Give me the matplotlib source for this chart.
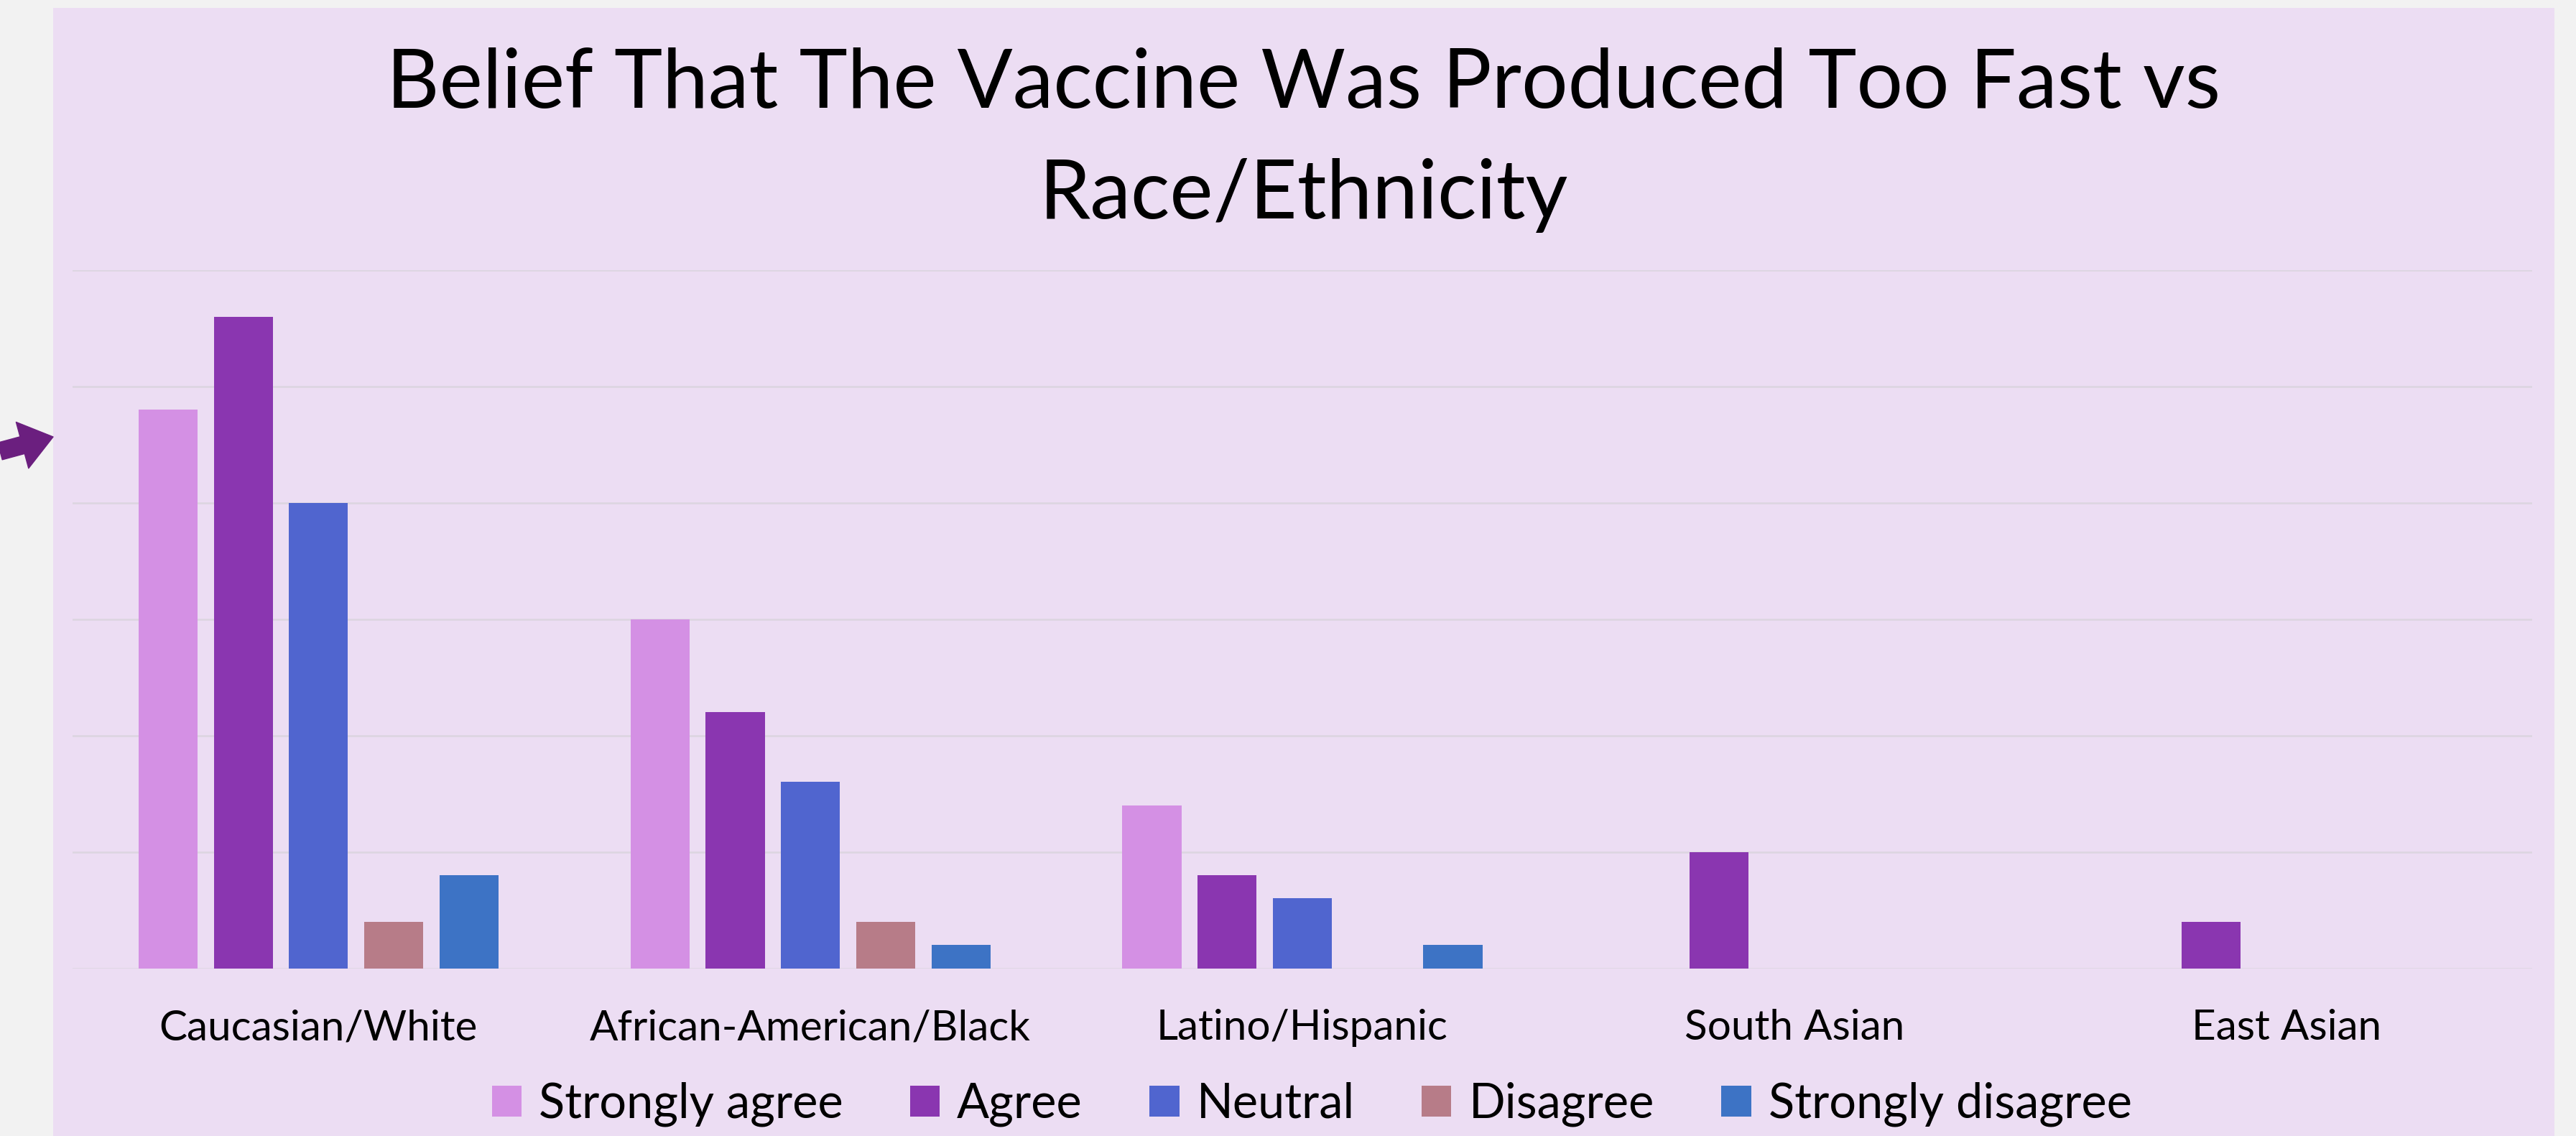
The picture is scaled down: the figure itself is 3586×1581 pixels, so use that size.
import numpy as np
import matplotlib.pyplot as plt
from matplotlib.patches import Rectangle, Patch

# data
groups = ['Caucasian/White', 'African-American/Black', 'Latino/Hispanic', 'South Asian', 'East Asian']
responses = ['Strongly agree', 'Agree', 'Neutral', 'Disagree', 'Strongly disagree']
strongly_agree = [24, 15, 7, 0, 0]
agree = [28, 11, 4, 5, 2]
neutral = [20, 8, 3, 0, 0]
disagree = [2, 2, 0, 0, 0]
strongly_disagree = [4, 1, 1, 0, 0]
colors = ['#D490E4', '#8A36B0', '#5065CF', '#B77C88', '#3D73C5']

series = [strongly_agree, agree, neutral, disagree, strongly_disagree]

plt.rcParams['font.family'] = ['Lato', 'DejaVu Sans']

fig = plt.figure(figsize=(35.86, 15.81), dpi=100)
fig.patch.set_facecolor('#F2F2F2')
fig.patches.append(Rectangle((74 / 3586, 0), (3556 - 74) / 3586, (1581 - 11) / 1581,
                             transform=fig.transFigure, facecolor='#ECDDF3',
                             edgecolor='none', zorder=-5))

ax = fig.add_axes([101 / 3586, 1 - 1347.5 / 1581, 3424 / 3586, (1347.5 - 376) / 1581])
ax.set_facecolor('none')

x = np.arange(len(groups))
step = 0.153
for i, vals in enumerate(series):
    ax.bar(x + (i - 2) * step, vals, width=0.12, color=colors[i], zorder=3)

ax.set_xlim(-0.5, 4.5)
ax.set_ylim(0, 30)
ax.set_yticks(np.arange(0, 31, 5))
ax.yaxis.grid(True, color='#DCD5E0', linewidth=1.8, zorder=1)
ax.set_axisbelow(True)
ax.set_yticklabels([])
ax.tick_params(axis='y', length=0)
ax.set_xticks(x)
ax.set_xticklabels(groups, fontsize=42)
ax.tick_params(axis='x', length=0, pad=41)
for s in ax.spines.values():
    s.set_visible(False)

fig.text(1815 / 3586, 1 - 118 / 1581, 'Belief That The Vaccine Was Produced Too Fast vs',
         ha='center', va='center', fontsize=82)
fig.text(1815 / 3586, 1 - 272 / 1581, 'Race/Ethnicity',
         ha='center', va='center', fontsize=82)

handles = [Patch(facecolor=c, edgecolor='none') for c in colors]
fig.legend(handles, responses, loc='center', bbox_to_anchor=(1826 / 3586, 44 / 1581),
           ncol=5, frameon=False, fontsize=48, handlelength=0.62, handleheight=0.62,
           handletextpad=0.36, columnspacing=1.4)

# purple arrow coming in from the left edge
ax.annotate('', xy=(74 / 3586, 1 - 608 / 1581), xytext=(0, 1 - 628 / 1581),
            xycoords='figure fraction', textcoords='figure fraction',
            arrowprops=dict(arrowstyle='simple,head_length=1.0,head_width=1.5,tail_width=0.55',
                            color='#6B1F7F', mutation_scale=32, shrinkA=0, shrinkB=0))

fig.savefig('out.png', dpi=100, facecolor=fig.get_facecolor())
